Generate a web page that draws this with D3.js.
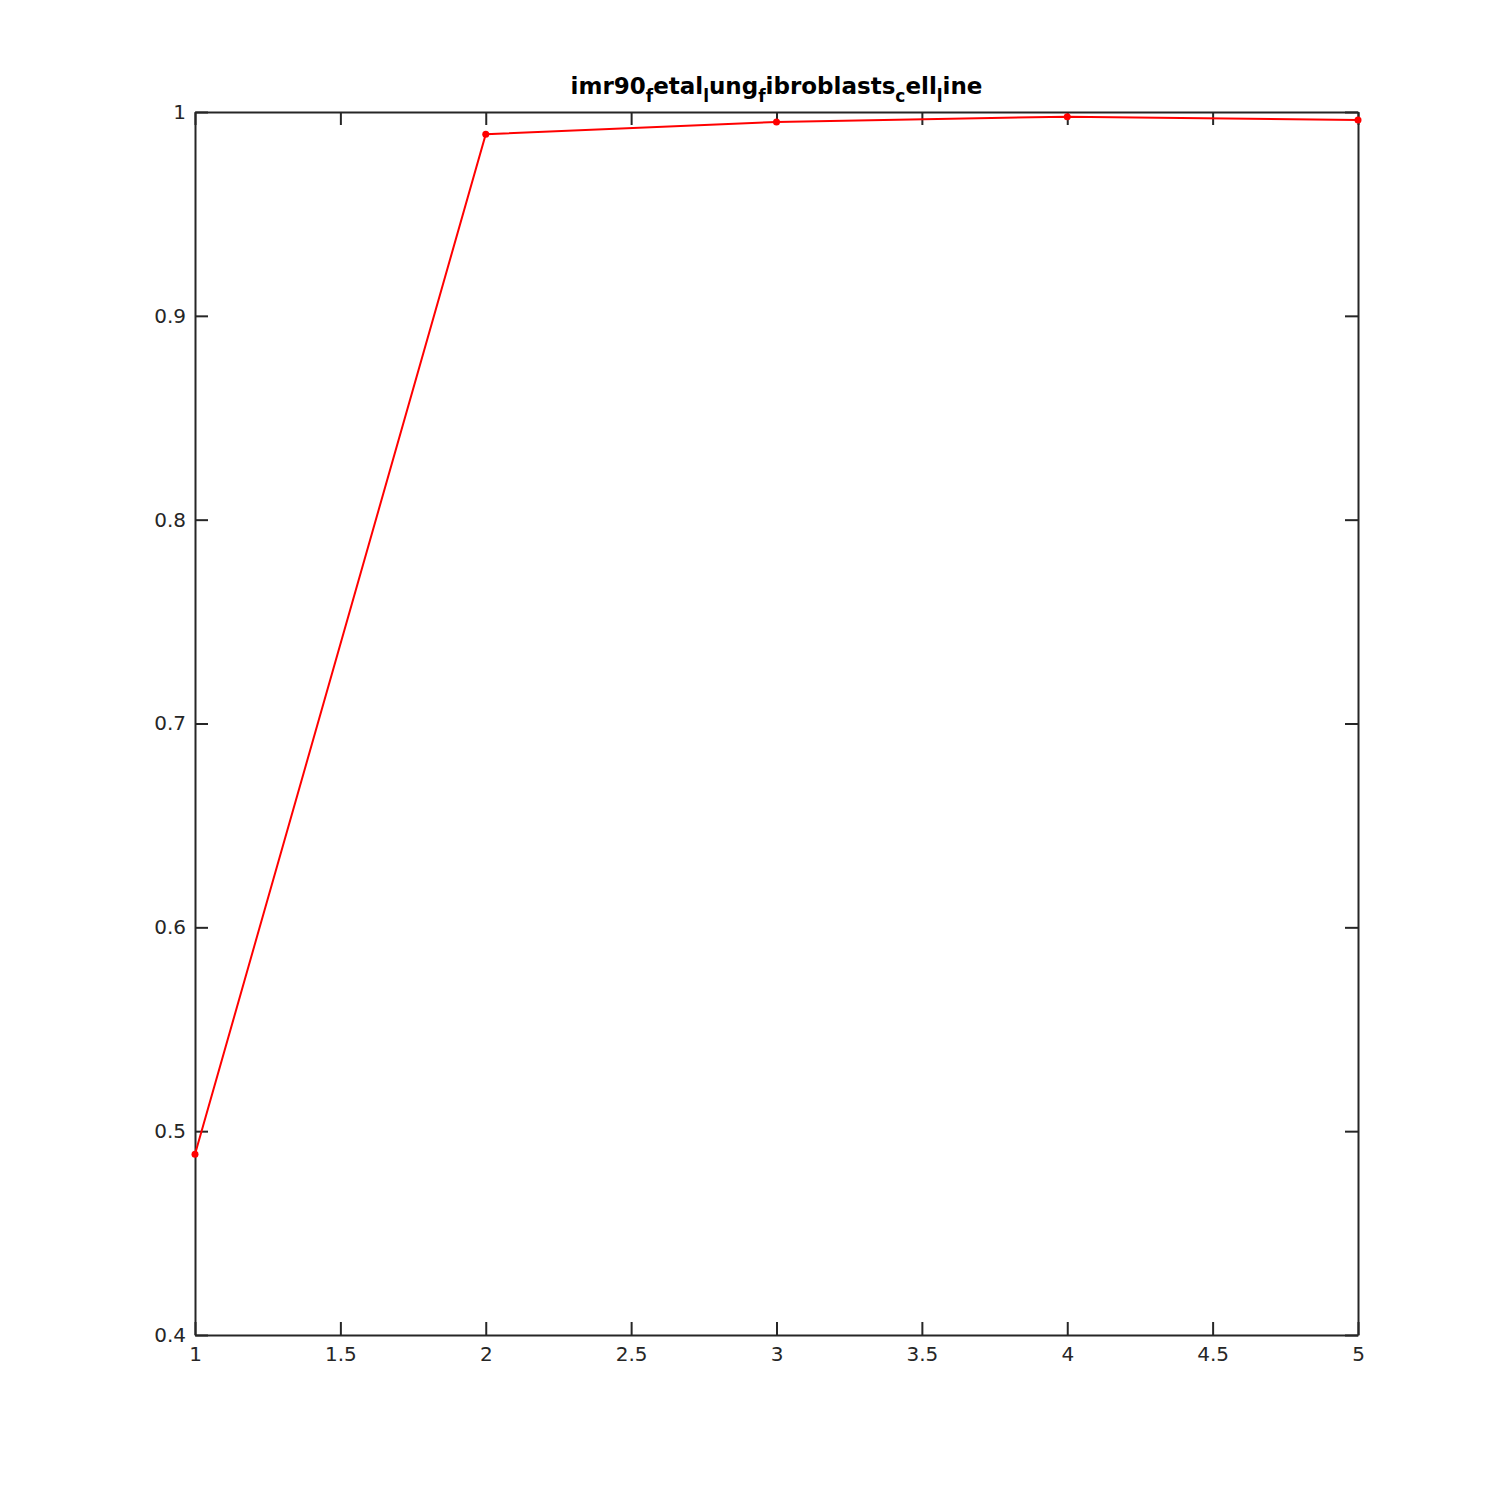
<!DOCTYPE html>
<html>
<head>
<meta charset="utf-8">
<script src="https://cdn.jsdelivr.net/npm/d3@7"></script>
<style>
  body { margin: 0; background: #fff; }
  svg text { font-family: "DejaVu Sans", sans-serif; }
</style>
</head>
<body>
<script>
// values
var xValues = [1, 2, 3, 4, 5];
var yValues = [0.4887, 0.9891, 0.9951, 0.9977, 0.9961];
var xTicks = [1, 1.5, 2, 2.5, 3, 3.5, 4, 4.5, 5];
var yTicks = [0.4, 0.5, 0.6, 0.7, 0.8, 0.9, 1];
// title pieces: [text, isSubscript]
var titleParts = [
	["imr90", false], ["f", true], ["etal", false], ["l", true], ["ung", false],
	["f", true], ["ibroblasts", false], ["c", true], ["ell", false], ["l", true], ["ine", false]
];

var W = 1500, H = 1500;
var box = { left: 195, right: 1358, top: 112, bottom: 1335 };
var tickLen = 13;
var axisColor = "#262626";

var svg = d3.select("body").append("svg")
	.attr("width", W)
	.attr("height", H);

var x = d3.scaleLinear().domain([1, 5]).range([box.left, box.right]);
var y = d3.scaleLinear().domain([0.4, 1]).range([box.bottom, box.top]);

// axes: labels on bottom/left, bare ticks on top/right, all ticks inward
function fmt(d) { return d3.format("")(d); }

svg.append("g")
	.attr("transform", "translate(0," + box.bottom + ")")
	.call(d3.axisBottom(x).tickValues(xTicks).tickSizeInner(-tickLen).tickSizeOuter(0).tickPadding(12).tickFormat(fmt))
	.call(styleAxis);

svg.append("g")
	.attr("transform", "translate(0," + box.top + ")")
	.call(d3.axisTop(x).tickValues(xTicks).tickSizeInner(-tickLen).tickSizeOuter(0).tickFormat(""))
	.call(styleAxis);

svg.append("g")
	.attr("transform", "translate(" + box.left + ",0)")
	.call(d3.axisLeft(y).tickValues(yTicks).tickSizeInner(-tickLen).tickSizeOuter(0).tickPadding(9).tickFormat(fmt))
	.call(styleAxis);

svg.append("g")
	.attr("transform", "translate(" + box.right + ",0)")
	.call(d3.axisRight(y).tickValues(yTicks).tickSizeInner(-tickLen).tickSizeOuter(0).tickFormat(""))
	.call(styleAxis);

function styleAxis(g) {
	g.attr("font-size", 20).attr("font-family", null);
	g.select(".domain").attr("stroke", axisColor).attr("stroke-width", 2);
	g.selectAll(".tick line").attr("stroke", axisColor).attr("stroke-width", 2);
	g.selectAll(".tick text").attr("fill", axisColor);
}

// the series
var points = xValues.map(function (d, i) { return [d, yValues[i]]; });

svg.append("path")
	.datum(points)
	.attr("fill", "none")
	.attr("stroke", "#ff0000")
	.attr("stroke-width", 2)
	.attr("d", d3.line().x(function (d) { return x(d[0]); }).y(function (d) { return y(d[1]); }));

svg.selectAll("circle.pt")
	.data(points)
	.enter().append("circle")
	.attr("class", "pt")
	.attr("cx", function (d) { return x(d[0]); })
	.attr("cy", function (d) { return y(d[1]); })
	.attr("r", 3.5)
	.attr("fill", "#ff0000");

// title with tex-like subscripts
var title = svg.append("text")
	.attr("x", (box.left + box.right) / 2)
	.attr("y", 94)
	.attr("text-anchor", "middle")
	.attr("font-size", 23)
	.attr("font-weight", "bold")
	.attr("fill", "#000");

titleParts.forEach(function (p, i) {
	var prevSub = i > 0 && titleParts[i - 1][1];
	var span = title.append("tspan").text(p[0]);
	if (p[1]) {
		span.attr("dy", 8).attr("font-size", 17);
	} else if (prevSub) {
		span.attr("dy", -8);
	}
});
</script>
</body>
</html>
